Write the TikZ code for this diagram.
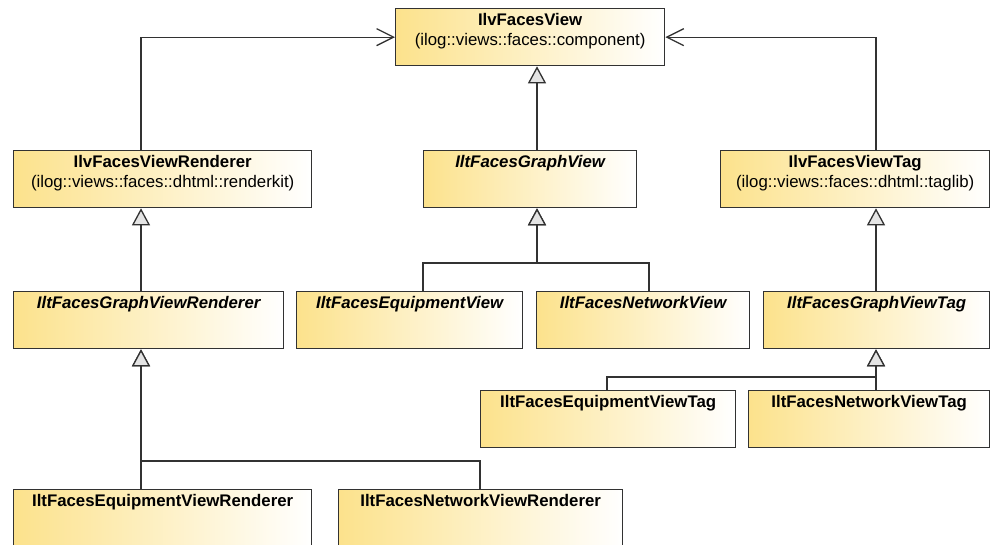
\documentclass[tikz,border=0pt]{standalone}
\usepackage{fontspec}
\setmainfont{Liberation Sans}
\usetikzlibrary{arrows.meta}

\definecolor{umlyellow}{RGB}{252,226,140}
\definecolor{umlline}{RGB}{50,50,50}
\definecolor{umltri}{RGB}{228,228,228}

\tikzset{
  cls/.style={draw=umlline, line width=1.3pt, left color=umlyellow, right color=white,
    inner xsep=0pt, inner ysep=0pt, anchor=north west,
    text height=17pt, text depth=40pt,
    font=\fontsize{16.8}{20}\selectfont\bfseries},
  abstract/.style={cls, font=\fontsize{16.8}{20}\selectfont\bfseries\itshape},
  gen/.style={draw=umlline, line width=1.3pt,
    -{Triangle[length=17pt,width=18pt,fill=umltri]}},
  assoc/.style={draw=umlline, line width=1.3pt,
    -{Straight Barb[length=17pt,width=17pt]}},
}

\newcommand\twoline[2]{\begin{tabular}[t]{@{}c@{}}#1\\\mdseries #2\end{tabular}}

\begin{document}
\begin{tikzpicture}[x=1pt, y=-1pt]
  \useasboundingbox[fill=white] (0,0) rectangle (992,544);

  % classes
  \node[cls, minimum width=269pt] (view) at (395,8)
    {\twoline{IlvFacesView}{(ilog::views::faces::component)}};
  \node[cls, minimum width=298pt] (renderer) at (13,150)
    {\twoline{IlvFacesViewRenderer}{(ilog::views::faces::dhtml::renderkit)}};
  \node[abstract, minimum width=213pt] (graphview) at (423,150) {IltFacesGraphView};
  \node[cls, minimum width=269pt] (viewtag) at (720,150)
    {\twoline{IlvFacesViewTag}{(ilog::views::faces::dhtml::taglib)}};

  \node[abstract, minimum width=270pt] (graphrenderer) at (13,291) {IltFacesGraphViewRenderer};
  \node[abstract, minimum width=226pt] (equipview) at (296,291) {IltFacesEquipmentView};
  \node[abstract, minimum width=213pt] (netview) at (536,291) {IltFacesNetworkView};
  \node[abstract, minimum width=226pt] (graphtag) at (763,291) {IltFacesGraphViewTag};

  \node[cls, minimum width=255pt] (equiptag) at (480,390) {IltFacesEquipmentViewTag};
  \node[cls, minimum width=241pt] (nettag) at (748,390) {IltFacesNetworkViewTag};

  \node[cls, minimum width=298pt] (equiprenderer) at (13,489) {IltFacesEquipmentViewRenderer};
  \node[cls, minimum width=284pt] (netrenderer) at (338,489) {IltFacesNetworkViewRenderer};

  % connector columns and junctions
  \coordinate (rx) at (141,0);
  \coordinate (tx) at (876,0);
  \coordinate (gx) at (537,0);
  \coordinate (evx) at (423,0);
  \coordinate (nvx) at (649,0);
  \coordinate (etx) at (607,0);
  \coordinate (nrx) at (480,0);
  \coordinate (gj) at (537,263);
  \coordinate (tj) at (876,377);
  \coordinate (rj) at (141,461);

  % associations
  \draw[assoc] (renderer.north -| rx) |- (view.west);
  \draw[assoc] (viewtag.north -| tx) |- (view.east);

  % generalizations
  \draw[gen] (graphview.north -| gx) -- (view.south -| gx);
  \draw[gen] (graphrenderer.north -| rx) -- (renderer.south -| rx);
  \draw[gen] (graphtag.north -| tx) -- (viewtag.south -| tx);

  \draw[gen] (equipview.north -| evx) |- (gj) -- (graphview.south -| gj);
  \draw[gen] (netview.north -| nvx) |- (gj) -- (graphview.south -| gj);

  \draw[gen] (equiptag.north -| etx) |- (tj) -- (graphtag.south -| tj);
  \draw[gen] (nettag.north -| tj) -- (graphtag.south -| tj);

  \draw[gen] (equiprenderer.north -| rj) -- (graphrenderer.south -| rj);
  \draw[gen] (netrenderer.north -| nrx) |- (rj) -- (graphrenderer.south -| rj);
\end{tikzpicture}
\end{document}
